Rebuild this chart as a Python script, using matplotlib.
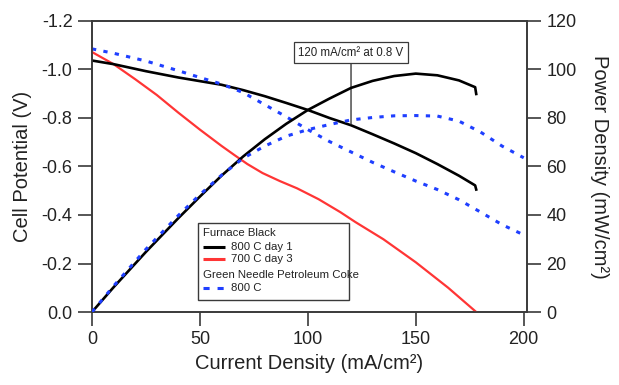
import matplotlib
matplotlib.use("Agg")
from matplotlib import pyplot as plt
from matplotlib.patches import Rectangle

plt.rcParams['font.family'] = ['Liberation Sans', 'DejaVu Sans']
plt.rcParams['axes.unicode_minus'] = False

# Furnace Black, 800 C day 1
cd_fb1 = [0, 10, 25, 40, 50, 60, 70, 80, 90, 100, 110, 120, 130, 140, 150, 160, 170, 177.5, 178]
v_fb1 = [-1.037, -1.022, -0.993, -0.967, -0.952, -0.937, -0.915, -0.89, -0.862, -0.833,
         -0.80, -0.77, -0.733, -0.695, -0.655, -0.61, -0.562, -0.522, -0.505]
p_fb1 = [0, 10.2, 24.8, 38.7, 47.6, 56.2, 64.1, 71.2, 77.6, 83.3, 88.0, 92.4, 95.3,
         97.3, 98.3, 97.6, 95.5, 92.7, 89.9]

# Furnace Black, 700 C day 3 (voltage only)
cd_fb3 = [0, 10, 20, 30, 40, 50, 60, 66, 72, 79, 87, 95, 105, 115, 122, 135, 150, 165, 178]
v_fb3 = [-1.072, -1.022, -0.96, -0.895, -0.822, -0.752, -0.685, -0.647, -0.61, -0.573,
         -0.54, -0.51, -0.465, -0.412, -0.371, -0.30, -0.205, -0.10, 0.0]

# Green Needle Petroleum Coke, 800 C
cd_gn = [0, 10, 25, 40, 50, 60, 70, 80, 90, 100, 110, 120, 130, 140, 150, 160, 170, 180, 190, 200]
v_gn = [-1.085, -1.067, -1.035, -0.995, -0.967, -0.94, -0.905, -0.855, -0.805, -0.752,
        -0.703, -0.66, -0.617, -0.578, -0.54, -0.505, -0.463, -0.412, -0.36, -0.318]
p_gn = [0, 10.7, 25.9, 39.8, 48.4, 56.4, 63.4, 68.4, 72.5, 75.2, 77.3, 79.2, 80.2, 80.9,
        81.0, 80.8, 78.7, 74.2, 68.4, 63.6]

black = '#000000'
red = '#ff3535'
blue = '#1f3fff'
axcol = '#3a3a3a'
dots = (0, (1.4, 2.4))

fig = plt.figure(figsize=(6.19, 3.85), dpi=100)
ax = fig.add_axes([0.1486, 0.1896, 0.7027, 0.7559])
ax2 = ax.twinx()

ax.plot(cd_fb3, v_fb3, color=red, lw=1.6, zorder=3)
ax.plot(cd_fb1, v_fb1, color=black, lw=1.9, zorder=4)
ax.plot(cd_gn, v_gn, color=blue, lw=2.2, ls=dots, zorder=5)

ax2.plot(cd_fb1, p_fb1, color=black, lw=1.9, zorder=4)
ax2.plot(cd_gn, p_gn, color=blue, lw=2.2, ls=dots, zorder=5)

ax.set_xlim(0, 201.5)
ax.set_ylim(0, -1.2)
ax2.set_ylim(0, 120)
ax.set_xticks([0, 50, 100, 150, 200])
ax.set_yticks([0.0, -0.2, -0.4, -0.6, -0.8, -1.0, -1.2])
ax.set_yticklabels(['0.0', '-0.2', '-0.4', '-0.6', '-0.8', '-1.0', '-1.2'])
ax2.set_yticks([0, 20, 40, 60, 80, 100, 120])

for a in (ax, ax2):
    for s in a.spines.values():
        s.set_color(axcol)
        s.set_linewidth(1.2)
    a.tick_params(length=10, width=1.2, color=axcol, labelsize=13, labelcolor='#222222', pad=4)

ax.set_xlabel('Current Density (mA/cm²)', fontsize=14.5, color='#222222', labelpad=4)
ax.set_ylabel('Cell Potential (V)', fontsize=14.5, color='#222222', labelpad=7)
ax2.set_ylabel('Power Density (mW/cm²)', fontsize=14.5, color='#222222', rotation=270,
               labelpad=23)

# annotation
ax.annotate('120 mA/cm² at 0.8 V', xy=(120, -0.775), xytext=(120, -1.07),
            ha='center', va='center', fontsize=8.3, color='#222222',
            bbox=dict(boxstyle='square,pad=0.35', fc='white', ec=axcol, lw=0.9),
            arrowprops=dict(arrowstyle='-', color=axcol, lw=1.0, shrinkA=0, shrinkB=0),
            zorder=6)

# legend box
ax2.add_patch(Rectangle((0.2437, 0.0412), 0.3471, 0.2646, transform=ax2.transAxes,
                        fc='white', ec=axcol, lw=1.0, zorder=10))
rows = [0.2704, 0.2244, 0.1811, 0.1271, 0.0814]
entries = [('Furnace Black', None, None),
           ('800 C day 1', black, '-'),
           ('700 C day 3', red, '-'),
           ('Green Needle Petroleum Coke', None, None),
           ('800 C', blue, (0, (2, 2.6)))]
for y, (lab, col, ls) in zip(rows, entries):
    if col is None:
        ax2.text(0.2559, y, lab, transform=ax2.transAxes, fontsize=8.2, color='#222222',
                 va='center', ha='left', zorder=11)
    else:
        ax2.plot([0.2559, 0.3057], [y, y], transform=ax2.transAxes, color=col, ls=ls,
                 lw=2.2, zorder=11, solid_capstyle='butt')
        ax2.text(0.3186, y, lab, transform=ax2.transAxes, fontsize=8.2, color='#222222',
                 va='center', ha='left', zorder=11)

fig.savefig('out.png', dpi=100)
